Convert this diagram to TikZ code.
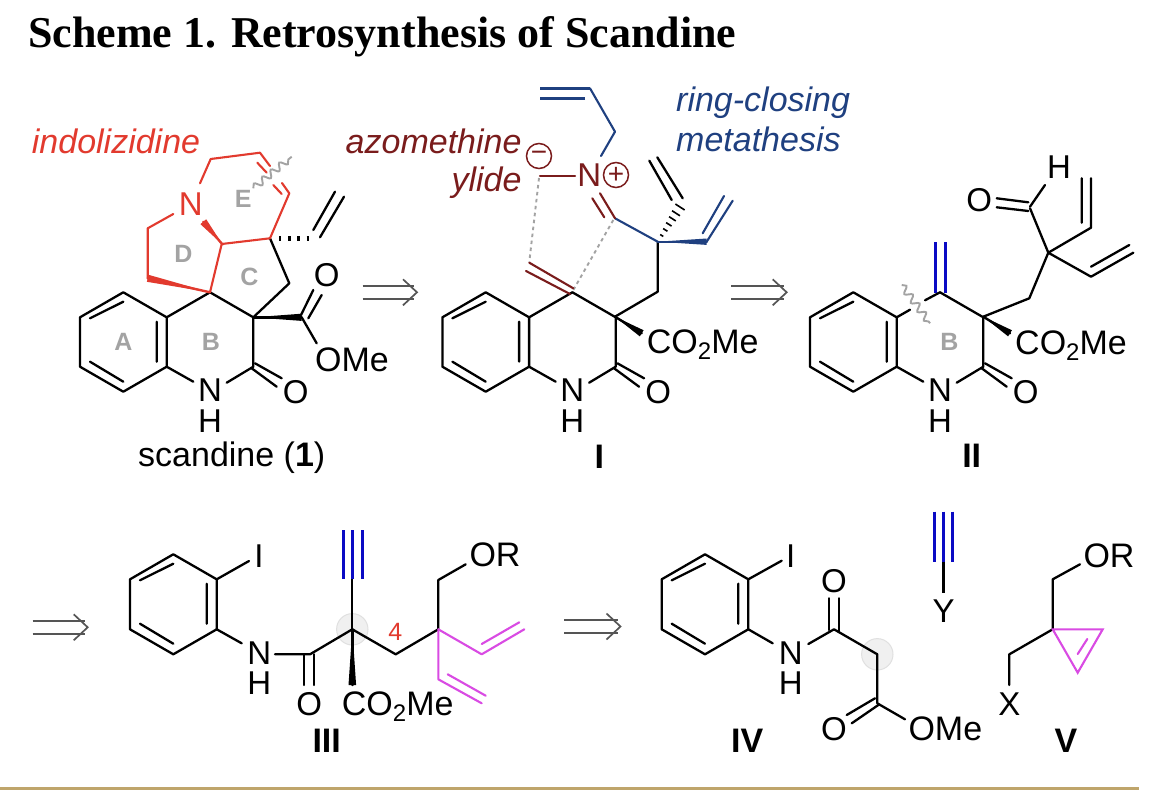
\documentclass[tikz,border=0pt]{standalone}
\usepackage{fontspec}
\setmainfont{Liberation Sans}
\newfontfamily\titlefont{Liberation Serif}
\usetikzlibrary{calc,decorations.pathmorphing}
\definecolor{cRed}{HTML}{E23A2E}
\definecolor{cDark}{HTML}{7A1C1C}
\definecolor{cNavy}{HTML}{1F4080}
\definecolor{cMag}{HTML}{D94BE3}
\definecolor{cAlk}{HTML}{0A0AC4}
\definecolor{cLab}{HTML}{A3A3A3}
\definecolor{cGold}{HTML}{BFA56B}
\definecolor{cArr}{HTML}{555555}
\tikzset{
  bond/.style={line width=2.3pt,line cap=round,line join=round,black},
  thin bond/.style={line width=2.1pt,line cap=round,line join=round},
  atom/.style={inner sep=0pt,font=\fontsize{33}{33}\selectfont},
  lbase/.style={inner sep=0pt,anchor=base west,font=\fontsize{34}{34}\selectfont},
  ringlab/.style={inner sep=0pt,text=cLab,font=\fontsize{25}{25}\selectfont\bfseries},
  cmpd/.style={inner sep=0pt,anchor=base,font=\fontsize{34}{34}\selectfont\bfseries},
  note/.style={inner sep=0pt,font=\fontsize{34}{34}\selectfont\itshape},
  wavy/.style={cLab,line width=1.9pt,decorate,decoration={snake,segment length=11pt,amplitude=3.4pt}},
  halo/.style={fill=black!6,draw=black!12,line width=1pt},
  charge/.style={circle,draw=cDark,line width=1.5pt,text=cDark,inner sep=0pt,minimum size=25pt,font=\fontsize{28}{28}\selectfont},
  tri/.style={line width=3pt,cAlk},
}
\newcommand{\Wedge}[4][black]{\fill[#1] (#2) -- ($(#3)!#4!90:(#2)$) -- ($(#3)!#4!-90:(#2)$) -- cycle;
  \draw[#1,line width=2.4pt,line cap=round] (#2) -- (#3);}
\newcommand{\Retro}[3]{%
  \draw[cArr,line width=1.7pt] (#1,#3-6.6) -- (#2-3,#3-6.6);
  \draw[cArr,line width=1.7pt] (#1,#3+6.6) -- (#2-3,#3+6.6);
  \draw[cArr,line width=1.7pt,line join=miter] (#2-14,#3-13) -- (#2,#3) -- (#2-14,#3+13);}
\newcommand{\CoMe}{CO\raisebox{-6pt}{\fontsize{24}{24}\selectfont 2}Me}
\newcommand{\Quino}{%
  \draw[bond] (123.3,292.3) -- (166.7,317.3) -- (166.7,366.7) -- (123.3,391.7) -- (80,366.7) -- (80,317.3) -- cycle;
  \draw[bond] (90,318.3) -- (123.3,301.7) (156.7,321.7) -- (156.7,361.7) (90,361.7) -- (123.3,381.7);
  \draw[bond] (166.7,366.7) -- (193.3,381.7) (226.7,382.7) -- (253.3,366.7) -- (253.3,317.3) -- (210,292.3);
  \draw[bond] (255,363.3) -- (281.7,378.3) (251.7,368.3) -- (276.7,386.7);
  \node[atom] at (210,390.6) {N};
  \node[atom] at (210,420.8) {H};
  \node[atom] at (295.7,391.7) {O};
}
\begin{document}
\begin{tikzpicture}[x=1pt,y=-1pt]
\useasboundingbox (0,0) rectangle (1164,806);
\fill[white] (0,0) rectangle (1164,806);
% title
\node[inner sep=0pt,anchor=base west,font=\fontsize{44}{44}\titlefont\bfseries] at (28,47.3) {Scheme 1. Retrosynthesis of Scandine};
% ---------- scandine
\Quino
\draw[bond] (166.7,317.3) -- (210,292.3);
\draw[bond] (253.3,317.3) -- (289.3,283.3) -- (270,238.3);
\draw[line width=5pt,dash pattern=on 2.4pt off 6.8pt] (279,238.3) -- (312,238.3);
\draw[bond] (313.3,230) -- (335,191.7) (320,237.3) -- (344,196.7);
\Wedge{253.3,317.3}{301.7,317.3}{3.6pt}
\draw[bond] (301,315) -- (313.3,290) (308.3,318.3) -- (321.7,295) (301.7,317.3) -- (316.7,343.3);
\node[atom] at (326.7,275) {O};
\node[lbase] at (315,371.7) {OMe};
% red part
\draw[thin bond,cRed] (210,292.3) -- (221.7,244) -- (270,238.3) -- (289.3,193.3) -- (282,183);
\draw[thin bond,cRed] (270,166) -- (260,152.7) -- (210.7,159) -- (200,183.3);
\draw[thin bond,cRed] (173.3,214) -- (147.7,228.3) -- (147.7,278.3);
\draw[thin bond,cRed] (257.3,162.7) -- (266.7,172.7) (273.3,185) -- (281.7,194);
\Wedge[cRed]{210,292.3}{147.7,278.3}{3.6pt}
\Wedge[cRed]{222.5,244.5}{203.3,221.7}{3.8pt}
\node[atom,text=cRed] at (190.7,204) {N};
\draw[wavy] (253.3,188.3) -- (291.7,156.7);
\node[note,text=cRed,anchor=base west] at (31.7,153.3) {indolizidine};
\node[ringlab] at (123.3,342) {A};
\node[ringlab] at (211,341.7) {B};
\node[ringlab] at (249.3,277.3) {C};
\node[ringlab] at (183.3,254.3) {D};
\node[ringlab] at (243.3,199) {E};
\node[lbase] at (138,466.7) {scandine (\textbf{1})};
% arrow
\Retro{362.7}{417}{292.3}
% ---------- I
\begin{scope}[shift={(362.4,0)}]
\Quino
\draw[bond] (166.7,317.3) -- (210,292.3);
\end{scope}
\draw[bond] (615,316.7) -- (657.7,291.7) -- (657.7,241.7);
\Wedge{615,316.7}{641.7,333.3}{3.6pt}
\node[lbase] at (646.7,353.3) {\CoMe};
\draw[thin bond,cNavy] (657.7,241.7) -- (615,218.3);
\Wedge[cNavy]{657.7,241.7}{706.7,241.7}{3.2pt}
\draw[line width=1.6pt,black] \foreach \t in {.18,.34,.5,.66,.82,1} {
  ({657.7+22.3*\t-.84*(1+4.5*\t)},{241.7-34.7*\t-.54*(1+4.5*\t)}) -- ({657.7+22.3*\t+.84*(1+4.5*\t)},{241.7-34.7*\t+.54*(1+4.5*\t)})};
\draw[bond] (682.7,198.3) -- (657.3,157.3) (671.7,200) -- (649.3,160.7);
\draw[thin bond,cNavy] (706.7,241.7) -- (732.7,200.7) (702.7,233.3) -- (724,196);
\draw[thin bond,cDark] (615,218.3) -- (600,193.3) (604.3,217.3) -- (592.3,198.3);
\draw[thin bond,cNavy] (601,156) -- (615,131.7) -- (590,88.3);
\draw[line width=2.8pt,cNavy] (585,98.3) -- (540,98.3);
\draw[line width=2.8pt,cNavy] (590,88.3) -- (540,88.3);
\draw[thin bond,cDark] (540,175.7) -- (575,175.7);
\node[atom,text=cDark] at (589.3,175) {N};
\node[charge] at (539,156) {−};
\node[charge] at (616,175) {+};
\draw[cLab,line width=1.9pt,dash pattern=on 3.5pt off 3.5pt] (539,178) -- (529.3,261.7) (613.3,220) -- (573.3,290);
\draw[thin bond,cDark] (573.3,288.3) -- (529.3,262.7) (570,294) -- (526,271);
\node[note,text=cDark,anchor=base east] at (521.7,153.3) {azomethine};
\node[note,text=cDark,anchor=base east] at (521.7,191.7) {ylide};
\node[note,text=cNavy,anchor=base west] at (676,111.7) {ring-closing};
\node[note,text=cNavy,anchor=base west] at (676,151.7) {metathesis};
\node[cmpd] at (599.3,468.3) {I};
% arrow
\Retro{731}{786.7}{292.3}
% ---------- II
\begin{scope}[shift={(730,0)}]
\Quino
\draw[bond] (166.7,317.3) -- (180,309.7) (195,300.3) -- (210,292.3);
\end{scope}
\draw[line width=3pt,cAlk] (935,242.3) -- (935,293) (945,242.3) -- (945,293);
\draw[wavy] (901.7,285) -- (930,323.3);
\Wedge{983.3,316.7}{1010,333.3}{3.6pt}
\node[lbase] at (1015,354) {\CoMe};
\draw[bond] (983.3,316.7) -- (1029.3,298.3) -- (1048.3,252.7) -- (1030,208.3);
\draw[bond] (996.7,198.3) -- (1028.3,202.3) (996.7,207.3) -- (1028.3,211) (1030,206.7) -- (1045,185);
\node[atom] at (979.3,200) {O};
\node[atom] at (1059,167.3) {H};
\draw[bond] (1048.3,252.7) -- (1091,227.7) -- (1091,178.3) (1081.7,178.3) -- (1081.7,222.7);
\draw[bond] (1048.3,252.7) -- (1091,276.7) -- (1133.3,252.7) (1091,266.7) -- (1129.3,245);
\node[ringlab] at (949.3,341.7) {B};
\node[cmpd] at (971.7,467.7) {II};
% ---------- III
\Retro{32.7}{87.7}{627.3}
\draw[halo] (352.3,629.3) circle[radius=15.7];
\draw[bond] (173.3,554.3) -- (216.7,579.3) -- (216.7,629.3) -- (173.3,654.3) -- (130,629.3) -- (130,579.3) -- cycle;
\draw[bond] (140,580.3) -- (173.3,563.7) (206.7,583.7) -- (206.7,623.7) (140,623.7) -- (173.3,643.7);
\draw[bond] (216.7,579.3) -- (249,561);
\node[atom] at (259,555.7) {I};
\draw[bond] (216.7,629.3) -- (241.7,643.3);
\node[atom] at (259.3,653.5) {N};
\node[atom] at (259.3,683.5) {H};
\draw[bond] (275,654.3) -- (310,654.3) -- (352.3,629.3);
\draw[bond] (304.3,654.3) -- (304.3,685) (314,654.3) -- (314,685);
\node[atom] at (309.3,704.3) {O};
\draw[bond] (352.3,629.3) -- (352.3,579.3);
\draw[tri] (343.3,530) -- (343.3,579.3) (352.3,530) -- (352.3,579.3) (362,530) -- (362,579.3);
\Wedge{352.3,629.3}{352.3,685}{3.8pt}
\node[lbase] at (341.7,715.7) {\CoMe};
\draw[bond] (352.3,629.3) -- (395.7,654.3) -- (438.3,629.3) -- (438.3,580) -- (465.7,564.3);
\node[lbase] at (469.3,566.7) {OR};
\draw[thin bond,cMag] (438.3,629.3) -- (481.7,654.3) -- (524.3,629.3) (481.7,644) -- (519.3,622.3);
\draw[thin bond,cMag] (438.3,629.3) -- (438.3,679.3) -- (481.7,703.3) (447.7,674.3) -- (485.7,695.7);
\node[inner sep=0pt,text=cRed,font=\fontsize{25}{25}\selectfont] at (395.3,631.7) {4};
\node[cmpd] at (326.7,752.3) {III};
% ---------- IV
\Retro{564.2}{620.5}{626.5}
\draw[halo] (877.3,654.3) circle[radius=15.7];
\draw[bond] (705,554.3) -- (748.3,579.3) -- (748.3,629.3) -- (705,654.3) -- (661.7,629.3) -- (661.7,579.3) -- cycle;
\draw[bond] (671.7,580.3) -- (705,563.7) (738.3,583.7) -- (738.3,623.7) (671.7,623.7) -- (705,643.7);
\draw[bond] (748.3,579.3) -- (781.7,560.7);
\node[atom] at (790.7,555.7) {I};
\draw[bond] (748.3,629.3) -- (772.7,643.3);
\node[atom] at (790.7,653.5) {N};
\node[atom] at (790.7,683.5) {H};
\draw[bond] (808.3,644) -- (834,629.3) -- (877.3,654.3) -- (877.3,703.3) -- (905,719.3);
\draw[bond] (829,598.3) -- (829,630) (839,598.3) -- (839,632);
\node[atom] at (834,581) {O};
\draw[bond] (875,698.3) -- (846.7,715) (878.3,705) -- (851.7,723.3);
\node[atom] at (834,729.3) {O};
\node[lbase] at (908.3,740) {OMe};
\node[cmpd] at (747.3,752.3) {IV};
% Y
\draw[tri] (934.3,511.7) -- (934.3,561.7) (943.5,511.7) -- (943.5,561.7) (952.5,511.7) -- (952.5,561.7);
\draw[line width=2.7pt] (943.5,561.7) -- (943.5,593.3);
\node[atom] at (943.5,611) {Y};
% ---------- V
\node[lbase] at (1083.3,567.3) {OR};
\draw[bond] (1080,564.3) -- (1052.7,579.3) -- (1052.7,629.3) -- (1009.3,654.3) -- (1009.3,685);
\node[atom] at (1009.3,704) {X};
\draw[thin bond,cMag,line cap=butt,line join=miter] (1052.7,629.3) -- (1102.7,629.3) -- (1077.7,672.7) -- cycle;
\draw[thin bond,cMag] (1087.3,639) -- (1077.7,654);
\node[cmpd] at (1066,752.3) {V};
% rule
\fill[cGold] (0,786.8) rectangle (1138.7,789.8);
\end{tikzpicture}
\end{document}
